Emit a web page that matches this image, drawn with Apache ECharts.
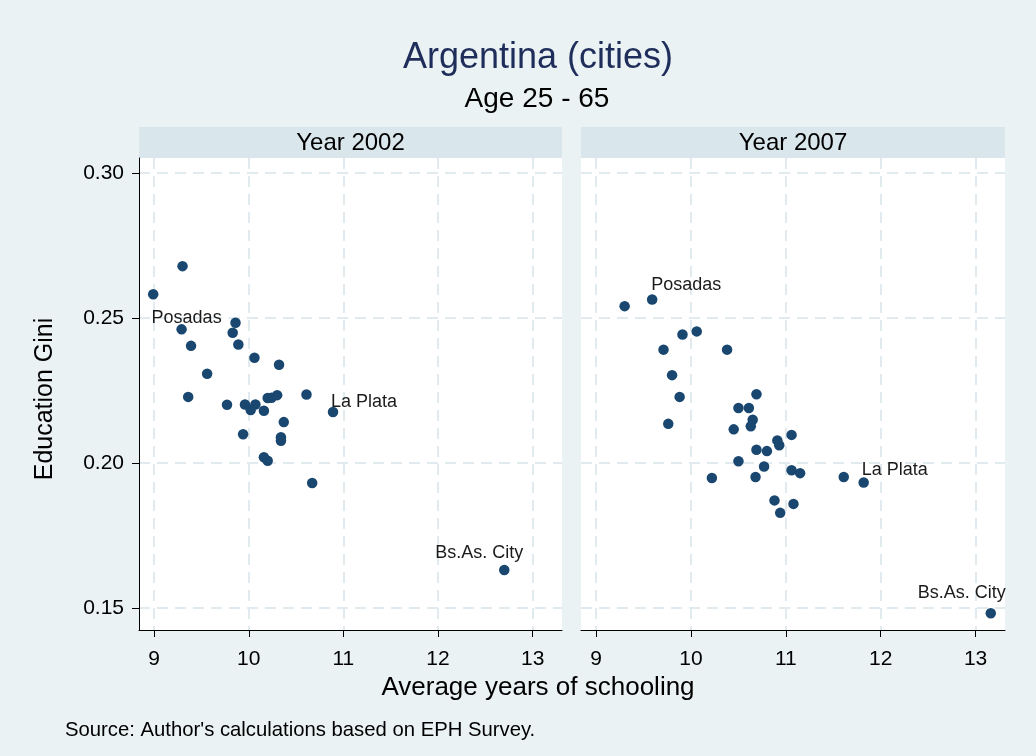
<!DOCTYPE html>
<html>
<head>
<meta charset="utf-8">
<script src="https://cdn.jsdelivr.net/npm/echarts@6/dist/echarts.min.js"></script>
<style>
  html, body { margin: 0; padding: 0; background: #eaf2f3; }
  #chart { width: 1036px; height: 756px; }
</style>
</head>
<body>
<div id="chart"></div>
<script>
// Average years of schooling and education Gini by city, people aged 25-65
const years = ['Year 2002', 'Year 2007'];

const schooling2002 = [9.30, 8.99, 9.29, 9.86, 9.83, 9.89, 9.39, 10.06, 10.32, 9.56,
  9.36, 9.77, 9.96, 10.02, 10.07, 10.16, 10.20, 10.24, 10.30, 10.61,
  10.89, 10.37, 9.94, 10.34, 10.34, 10.16, 10.20, 10.67, 12.70];
const gini2002 = [0.2679, 0.2582, 0.2461, 0.2484, 0.2449, 0.2409, 0.2404, 0.2363, 0.2339, 0.2308,
  0.2228, 0.2201, 0.2202, 0.2183, 0.2202, 0.2180, 0.2224, 0.2225, 0.2234, 0.2236,
  0.2176, 0.2141, 0.2099, 0.2089, 0.2077, 0.2020, 0.2008, 0.1931, 0.1631];
const names2002 = ['', '', 'Posadas', '', '', '', '', '', '', '',
  '', '', '', '', '', '', '', '', '', '',
  'La Plata', '', '', '', '', '', '', '', 'Bs.As. City'];

const schooling2007 = [9.30, 9.59, 9.91, 10.06, 9.71, 10.38, 9.80, 9.88, 9.76, 10.69,
  10.50, 10.61, 10.65, 10.63, 10.45, 11.06, 10.91, 10.93, 10.69, 10.80,
  10.50, 10.77, 10.22, 10.68, 11.06, 11.15, 10.88, 11.08, 10.94, 11.61,
  11.82, 13.16];
const gini2007 = [0.2541, 0.2564, 0.2443, 0.2454, 0.2391, 0.2391, 0.2303, 0.2228, 0.2135, 0.2237,
  0.2190, 0.2190, 0.2149, 0.2127, 0.2116, 0.2097, 0.2078, 0.2061, 0.2046, 0.2041,
  0.2006, 0.1988, 0.1948, 0.1952, 0.1975, 0.1965, 0.1871, 0.1859, 0.1828, 0.1952,
  0.1933, 0.1482];
const names2007 = ['', 'Posadas', '', '', '', '', '', '', '', '',
  '', '', '', '', '', '', '', '', '', '',
  '', '', '', '', '', '', '', '', '', '',
  'La Plata', 'Bs.As. City'];

const xTicks = [9, 10, 11, 12, 13];
const yTicks = [0.15, 0.20, 0.25, 0.30];

const FONT = '"Liberation Sans", Arial, Helvetica, sans-serif';
const MARKER = '#1a476f';
const GRID_LINE = '#e1eaee';

// where each city label sits relative to its marker, per panel
const labelOffsets = [
  { 'Posadas': [-30, -11], 'La Plata': [-2, -10], 'Bs.As. City': [-69, -17] },
  { 'Posadas': [-1, -14], 'La Plata': [-2, -12], 'Bs.As. City': [-73, -20] }
];

function buildPoints(xs, ys, names, panel) {
  return xs.map(function (x, i) {
    const item = { value: [x, ys[i]], name: names[i] };
    if (names[i]) {
      item.label = {
        show: true,
        formatter: '{b}',
        position: 'inside',
        align: 'left',
        verticalAlign: 'middle',
        offset: labelOffsets[panel][names[i]],
        color: '#1b1b1b',
        fontSize: 18,
        fontFamily: FONT
      };
    }
    return item;
  });
}

const grids = [
  { left: 139, top: 158, width: 423, height: 472 },
  { left: 581, top: 158, width: 424, height: 472 }
];

function xAxisFor(g) {
  return {
    gridIndex: g, type: 'value', min: 8.84, max: 13.31,
    axisLine: { show: true, onZero: false, lineStyle: { color: '#000', width: 1 } },
    axisTick: { show: true, length: 7, customValues: xTicks, lineStyle: { color: '#000', width: 1 } },
    axisLabel: { customValues: xTicks, fontSize: 21, color: '#000', margin: 19, fontFamily: FONT },
    splitLine: { show: true, lineStyle: { color: GRID_LINE, width: 2, type: [11, 7] } }
  };
}

function yAxisFor(g) {
  const shown = g === 0;
  return {
    gridIndex: g, type: 'value', min: 0.1424, max: 0.3052,
    axisLine: { show: shown, onZero: false, lineStyle: { color: '#000', width: 1 } },
    axisTick: { show: shown, length: 7, customValues: yTicks, lineStyle: { color: '#000', width: 1 } },
    axisLabel: {
      show: shown, customValues: yTicks, fontSize: 21, color: '#000', margin: 15, fontFamily: FONT,
      formatter: function (v) { return v.toFixed(2); }
    },
    splitLine: { show: true, lineStyle: { color: GRID_LINE, width: 2, type: [11, 7] } }
  };
}

const chart = echarts.init(document.getElementById('chart'), null, { renderer: 'canvas' });

const graphics = [];
grids.forEach(function (g, i) {
  graphics.push({
    type: 'rect', silent: true,
    shape: { x: g.left, y: 127, width: g.width, height: 31 },
    style: { fill: '#d9e6eb' }
  });
  graphics.push({
    type: 'text', silent: true,
    style: {
      text: years[i], x: g.left + g.width / 2, y: 143,
      textAlign: 'center', textVerticalAlign: 'middle',
      font: '24px ' + FONT, fill: '#000'
    }
  });
});
graphics.push(
  { type: 'text', silent: true, style: { text: 'Argentina (cities)', x: 538, y: 58, textAlign: 'center', textVerticalAlign: 'middle', font: '36px ' + FONT, fill: '#1e2d5a' } },
  { type: 'text', silent: true, style: { text: 'Age 25 - 65', x: 537, y: 99, textAlign: 'center', textVerticalAlign: 'middle', font: '28px ' + FONT, fill: '#000' } },
  { type: 'text', silent: true, style: { text: 'Average years of schooling', x: 538, y: 688, textAlign: 'center', textVerticalAlign: 'middle', font: '26px ' + FONT, fill: '#000' } },
  { type: 'text', silent: true, rotation: Math.PI / 2, x: 45, y: 399, style: { text: 'Education Gini', x: 0, y: 0, textAlign: 'center', textVerticalAlign: 'middle', font: '25px ' + FONT, fill: '#000' } },
  { type: 'text', silent: true, style: { text: "Source: Author's calculations based on EPH Survey.", x: 65, y: 730, textAlign: 'left', textVerticalAlign: 'middle', font: '20.3px ' + FONT, fill: '#000' } }
);

chart.setOption({
  backgroundColor: '#eaf2f3',
  animation: false,
  grid: grids.map(function (g) {
    return Object.assign({ show: true, backgroundColor: '#ffffff', borderWidth: 0, containLabel: false }, g);
  }),
  xAxis: [xAxisFor(0), xAxisFor(1)],
  yAxis: [yAxisFor(0), yAxisFor(1)],
  series: [
    {
      type: 'scatter', xAxisIndex: 0, yAxisIndex: 0, symbol: 'circle', symbolSize: 10.5,
      itemStyle: { color: MARKER, opacity: 1 },
      data: buildPoints(schooling2002, gini2002, names2002, 0)
    },
    {
      type: 'scatter', xAxisIndex: 1, yAxisIndex: 1, symbol: 'circle', symbolSize: 10.5,
      itemStyle: { color: MARKER, opacity: 1 },
      data: buildPoints(schooling2007, gini2007, names2007, 1)
    }
  ],
  graphic: graphics
});
</script>
</body>
</html>
